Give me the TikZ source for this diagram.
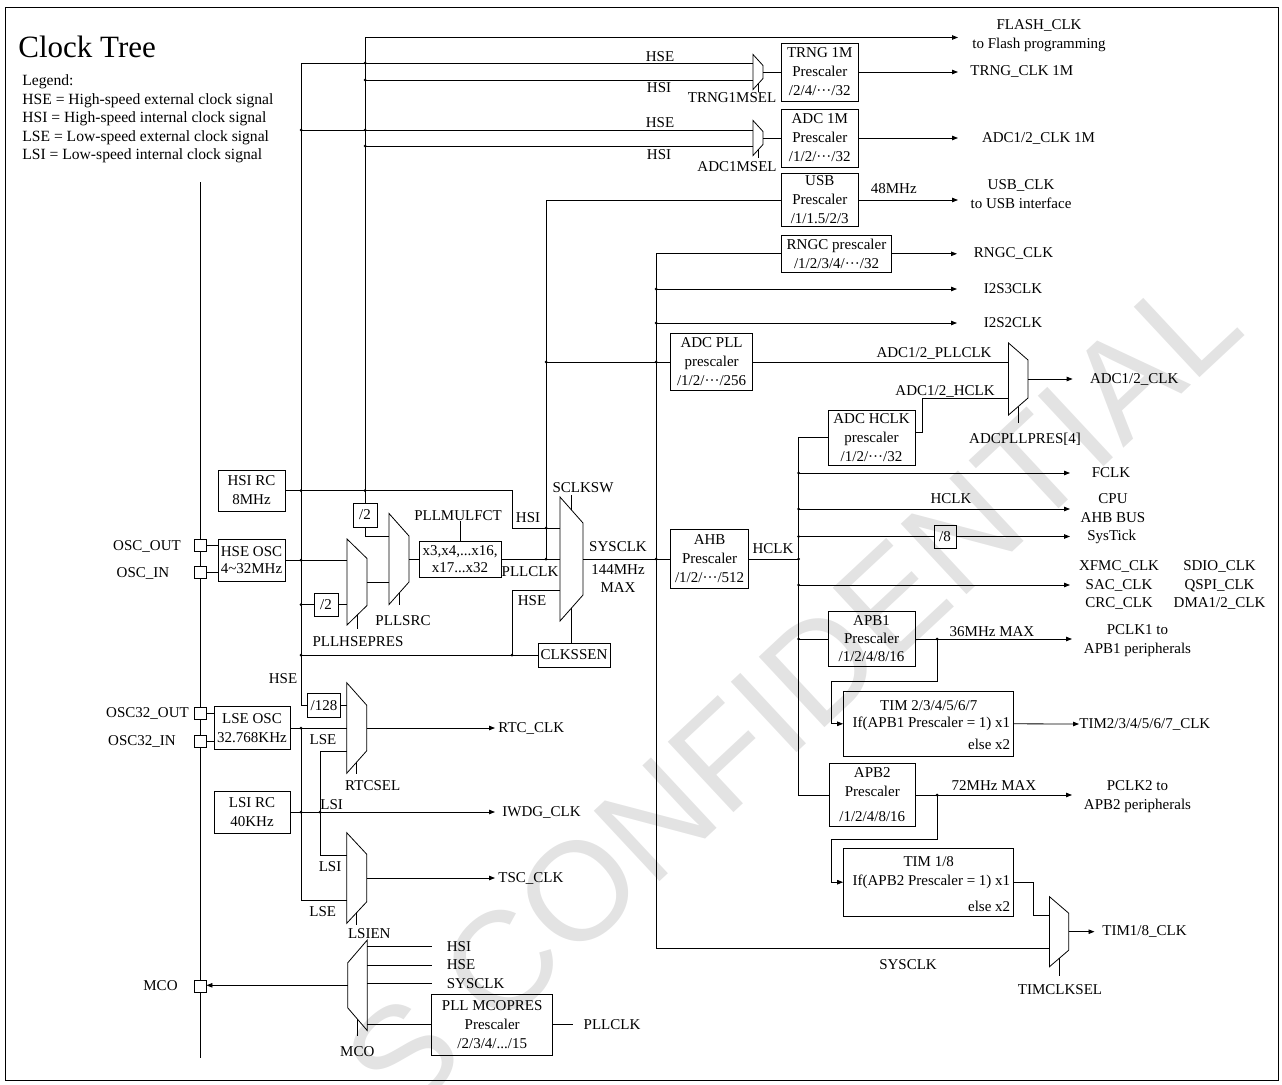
\documentclass[tikz,border=0pt]{standalone}
\usepackage{fontspec}
\setmainfont{Liberation Serif}
\newfontfamily\markfont{Liberation Sans}
\usetikzlibrary{arrows.meta}
\tikzset{>={Triangle[length=6pt,width=4.5pt]}}
\tikzset{
	box/.style={draw,align=center,inner sep=0pt},
	pin/.style={draw,fill=white,minimum size=12pt,inner sep=0pt},
	lbl/.style={inner sep=0pt,align=center}
}
\newcommand{\muxR}[6]{
	% #1: name
	% #2: x of the long side
	% #3: y of the centre
	% #4: width
	% #5: half height, long side
	% #6: half height, short side
	\draw (#2,#3-#5) -- (#2+#4,#3-#6) -- (#2+#4,#3+#6) -- (#2,#3+#5) -- cycle;
	\coordinate (#1-w) at (#2,#3);
	\coordinate (#1-e) at (#2+#4,#3);
	\coordinate (#1-n) at (#2+#4/2,#3-#5/2-#6/2);
	\coordinate (#1-s) at (#2+#4/2,#3+#5/2+#6/2);
}
\newcommand{\muxL}[6]{
	% same as \muxR, output on the left
	\draw (#2,#3-#5) -- (#2-#4,#3-#6) -- (#2-#4,#3+#6) -- (#2,#3+#5) -- cycle;
	\coordinate (#1-e) at (#2,#3);
	\coordinate (#1-w) at (#2-#4,#3);
	\coordinate (#1-s) at (#2-#4/2,#3+#5/2+#6/2);
}
\newcommand{\junction}[1]{
	% #1: x,y
	\fill (#1) circle (1.5pt);
}

\begin{document}
\begin{tikzpicture}[x=1pt,y=-1pt,line width=.8pt,every node/.style={font=\fontsize{15}{19}\selectfont}]
\useasboundingbox (0,0) rectangle (1282,1084);

% watermark
\node[lbl,rotate=43,text=black!11,font=\fontsize{140}{140}\markfont] (mark) at (792,692) {S CONFIDENTIAL};

% frame, title and legend
\draw (5,7) rectangle (1278,1080);
\node[lbl,anchor=base west,font=\fontsize{31}{36}\selectfont] (title) at (18,57) {Clock Tree};
\node[lbl,anchor=north west,align=left,font=\fontsize{15.6}{18.5}\selectfont] (legend) at (22,74.5) {Legend:\\HSE = High-speed external clock signal\\HSI = High-speed internal clock signal\\LSE = Low-speed external clock signal\\LSI = Low-speed internal clock signal};

% chip edge and pins
\draw (200,182) -- (200,1058);
\node[pin] (oscout) at (200,545) {};
\node[pin] (oscin) at (200,572.5) {};
\node[pin] (osc32out) at (200,713.5) {};
\node[pin] (osc32in) at (200,741) {};
\node[pin] (mcopin) at (200,986) {};
\node[lbl] (oscoutl) at (147,546) {OSC\_OUT};
\node[lbl] (oscinl) at (143,573) {OSC\_IN};
\node[lbl] (osc32outl) at (147.5,713) {OSC32\_OUT};
\node[lbl] (osc32inl) at (142,741) {OSC32\_IN};
\node[lbl] (mcol) at (160.5,986) {MCO};

% oscillators
\node[box,minimum width=67,minimum height=41] (hsirc) at (251.5,490.5) {HSI RC\\8MHz};
\node[box,minimum width=67,minimum height=42,font=\fontsize{15}{17}\selectfont] (hseosc) at (251.5,560) {HSE OSC\\4\textasciitilde 32MHz};
\node[box,minimum width=76,minimum height=42.6] (lseosc) at (252,728) {LSE OSC\\32.768KHz};
\node[box,minimum width=76,minimum height=42] (lsirc) at (252,812) {LSI RC\\40KHz};
\draw (oscout.east) -- (oscout.east -| hseosc.west);
\draw (oscin.east) -- (oscin.east -| hseosc.west);
\draw (osc32out.east) -- (osc32out.east -| lseosc.west);
\draw (osc32in.east) -- (osc32in.east -| lseosc.west);

% prescaler boxes
\node[box,minimum width=24,minimum height=24] (hsidiv) at (365,515) {/2};
\node[box,minimum width=24,minimum height=23] (hsediv) at (326,604.5) {/2};
\node[box,minimum width=82,minimum height=36,font=\fontsize{15}{17}\selectfont] (pllmul) at (460,559) {x3,x4,...x16,\\x17...x32};
\node[box,minimum width=72,minimum height=24] (clkssen) at (574,655) {CLKSSEN};
\node[box,minimum width=33.4,minimum height=24] (div128) at (324,705.3) {/128};
\node[box,minimum width=76.5,minimum height=58] (trng) at (819.75,72) {TRNG 1M\\Prescaler\\/2/4/···/32};
\node[box,minimum width=76.5,minimum height=58] (adc1m) at (819.75,138) {ADC 1M\\Prescaler\\/1/2/···/32};
\node[box,minimum width=76.5,minimum height=53.4] (usb) at (819.75,200) {USB\\Prescaler\\/1/1.5/2/3};
\node[box,minimum width=110.5,minimum height=37.7] (rngc) at (836.5,253.8) {RNGC prescaler\\/1/2/3/4/···/32};
\node[box,minimum width=82,minimum height=56.7] (adcpll) at (711.6,362) {ADC PLL\\prescaler\\/1/2/···/256};
\node[box,minimum width=87,minimum height=55] (adchclk) at (871.5,437.5) {ADC HCLK\\prescaler\\/1/2/···/32};
\node[box,minimum width=78,minimum height=59] (ahb) at (709.6,559) {AHB\\Prescaler\\/1/2/···/512};
\node[box,minimum width=22,minimum height=23] (div8) at (945,536.5) {/8};
\node[box,minimum width=87,minimum height=54.3,font=\fontsize{15}{18}\selectfont] (apb1) at (871.5,639) {APB1\\Prescaler\\/1/2/4/8/16};
\node[box,minimum width=85.4,minimum height=63.4] (apb2) at (872.3,795) {APB2\\Prescaler\\[6pt]/1/2/4/8/16};
\node[box,minimum width=170,minimum height=65.7] (tim2) at (928.5,723.8) {};
\node[box,minimum width=170,minimum height=67.7] (tim18) at (928.5,882.2) {};
\node[box,minimum width=121,minimum height=61] (pllmco) at (492.2,1024.5) {PLL MCOPRES\\Prescaler\\/2/3/4/.../15};

% multiplexers
\muxR{trngmux}{753}{72}{10}{17.5}{6.5}
\muxR{adcmmux}{753}{138}{10}{17.5}{6.5}
\muxR{hsepmux}{347}{582}{20}{43}{23.5}
\muxR{pllsrcmux}{389}{559}{20}{45.5}{23}
\muxR{sclkmux}{560}{559}{23}{62}{36}
\muxR{adcmux}{1008.5}{379}{19.5}{36}{19}
\muxR{timmux}{1049.5}{931.7}{19.2}{35}{18.5}
\muxR{rtcmux}{346.7}{728}{20}{45.3}{22.8}
\muxR{lsienmux}{346.7}{878}{20}{45.3}{23.8}
\muxL{mcomux}{367.3}{985.3}{19.6}{45.3}{22.5}

% bus points
\coordinate (hsitop) at (365,37.5);
\coordinate (hsetop) at (301,63);
\coordinate (flashtip) at (958,37.5);
\coordinate (pllclkdot) at (546,559);
\coordinate (sysbot) at (656,948);
\coordinate (systip) at (957,0);
\coordinate (hclkx) at (798.5,0);
\coordinate (hclktip) at (1070,0);
\coordinate (apbtip) at (1072,0);
\coordinate (hsiturn) at (512,528);
\coordinate (hseturn) at (512,655);
\coordinate (lsetap) at (301,728);
\coordinate (lsiturn) at (320,855);
\coordinate (apb1tap) at (937,639);
\coordinate (apb2tap) at (937,795);

% HSI and HSE buses
\node[lbl] (flash) at (1039,35.5) {FLASH\_CLK\\to Flash programming};
\draw[->] (hsitop) -- (flashtip);
\draw (hsitop) -- (hsidiv.north);
\draw (hsetop) |- (div128.west);
\draw (hsetop) -- (hsetop -| trngmux-w);
\draw (hsitop |- 0,80) -- (trngmux-w |- 0,80);
\draw (hsetop |- 0,130) -- (adcmmux-w |- 0,130);
\draw (hsitop |- 0,146) -- (adcmmux-w |- 0,146);

% TRNG and ADC 1M
\draw (trngmux-e) -- (trng.west);
\draw (trngmux-s) -- ++(0,8);
\draw (adcmmux-e) -- (adc1m.west);
\draw (adcmmux-s) -- ++(0,8);
\draw[->] (trng.east) -- (trng.east -| flashtip);
\draw[->] (adc1m.east) -- (adc1m.east -| flashtip);
\node[lbl] (trnghse) at (660,57) {HSE};
\node[lbl] (trnghsi) at (659,88) {HSI};
\node[lbl] (trngsel) at (732,98) {TRNG1MSEL};
\node[lbl] (adchse) at (660,123) {HSE};
\node[lbl] (adchsi) at (659,155) {HSI};
\node[lbl] (adcmsel) at (737,167) {ADC1MSEL};
\node[lbl,anchor=west] (trngclk) at (970,72) {TRNG\_CLK 1M};
\node[lbl] (adc1mclk) at (1038.5,138) {ADC1/2\_CLK 1M};

% USB and PLLCLK line
\draw (usb.west) -| (pllclkdot);
\draw[->] (usb.east) -- (usb.east -| flashtip);
\node[lbl] (usbmhz) at (893.8,188.3) {48MHz};
\node[lbl] (usbclk) at (1021,194.5) {USB\_CLK\\to USB interface};

% PLL and system clock switch
\draw (hseosc.east) -- (hseosc.east -| hsepmux-w);
\draw (hsetop |- hsediv) -- (hsediv.west);
\draw (hsediv.east) -- (hsediv.east -| hsepmux-w);
\draw (hsidiv.south) |- (pllsrcmux-w |- 0,536);
\draw (hsepmux-e) -- (hsepmux-e -| pllsrcmux-w);
\draw (pllsrcmux-e) -- (pllmul.west);
\draw (pllmul.east) -- (sclkmux-w);
\draw (hsirc.east) -| (hsiturn) -- (hsiturn -| sclkmux-w);
\draw (hsetop |- clkssen) -- (clkssen.west);
\draw (hseturn) |- (sclkmux-w |- 0,590);
\draw (hsepmux-s) -- ++(0,14);
\draw (pllsrcmux-s) -- ++(0,12);
\draw (sclkmux-n) -- ++(0,-15);
\draw (sclkmux-s) -- (sclkmux-s |- clkssen.north);
\node[lbl] (pllmulfct) at (458,516) {PLLMULFCT};
\draw (pllmul.north) -- (pllmul.north |- pllmulfct.south);
\node[lbl] (pllsrc) at (403,621) {PLLSRC};
\node[lbl] (pllhsepres) at (358,642) {PLLHSEPRES};
\node[lbl] (sclkhsi) at (528,518) {HSI};
\node[lbl] (sclkpll) at (530,572) {PLLCLK};
\node[lbl] (sclkhse) at (532,601) {HSE};
\node[lbl] (sclksw) at (583,488) {SCLKSW};
\node[lbl] (sysclk) at (618,547) {SYSCLK};
\node[lbl,font=\fontsize{15}{18}\selectfont] (sysmax) at (618,579) {144MHz\\MAX};
\draw (sclkmux-e) -- (ahb.west);

% SYSCLK bus
\draw (rngc.west) -| (sysbot) -- (sysbot -| timmux-w);
\draw[->] (rngc.east) -- (rngc.east -| systip);
\draw[->] (sysbot |- 0,289) -- (systip |- 0,289);
\draw[->] (sysbot |- 0,323) -- (systip |- 0,323);
\node[lbl] (rngcclk) at (1013.5,253.8) {RNGC\_CLK};
\node[lbl] (i2s3) at (1013,289) {I2S3CLK};
\node[lbl] (i2s2) at (1013,323) {I2S2CLK};

% ADC clock
\draw (pllclkdot |- adcpll) -- (adcpll.west);
\draw (adcpll.east) -- (adcpll.east -| adcmux-w);
\draw ([yshift=5pt]adchclk.east) -- ++(7,0) |- (adcmux-w |- 0,398);
\draw (adcmux-s) -- ++(0,16);
\node[lbl,anchor=west] (adcclk) at (1089.6,379) {ADC1/2\_CLK};
\draw[->] (adcmux-e) -- ([xshift=-17pt]adcclk.west);
\node[lbl] (adcpllclk) at (934,353.3) {ADC1/2\_PLLCLK};
\node[lbl] (adchclkl) at (945,391) {ADC1/2\_HCLK};
\node[lbl] (adcpllpres) at (1025,439) {ADCPLLPRES[4]};

% HCLK bus
\draw (adchclk.west) -| (hclkx |- apb2.west) -- (apb2.west);
\draw (ahb.east) -- (hclkx |- ahb.east);
\node[lbl] (hclkl) at (773,549) {HCLK};
\draw[->] (hclkx |- 0,473) -- (hclktip |- 0,473);
\draw[->] (hclkx |- 0,509) -- (hclktip |- 0,509);
\draw (hclkx |- div8) -- (div8.west);
\draw[->] (div8.east) -- (hclktip |- div8);
\draw[->] (hclkx |- 0,585) -- (hclktip |- 0,585);
\node[lbl] (fclk) at (1111,473) {FCLK};
\node[lbl] (hclkcpu) at (951,499) {HCLK};
\node[lbl] (cpu) at (1113,508.5) {CPU\\AHB BUS};
\node[lbl] (systick) at (1111.7,536.5) {SysTick};
\node[lbl,font=\fontsize{15}{18.2}\selectfont] (periph1) at (1119,585) {XFMC\_CLK\\SAC\_CLK\\CRC\_CLK};
\node[lbl,font=\fontsize{15}{18.2}\selectfont] (periph2) at (1219.5,585) {SDIO\_CLK\\QSPI\_CLK\\DMA1/2\_CLK};

% APB1 and timers 2..7
\draw (hclkx |- apb1) -- (apb1.west);
\draw[->] (apb1.east) -- (apb1.east -| apbtip);
\draw[->] (apb1tap) |- (831,681.7) |- (tim2.west);
\node[lbl] (apb1mhz) at (992,631.7) {36MHz MAX};
\node[lbl] (pclk1) at (1137.5,641) {PCLK1 to\\APB1 peripherals};
\node[lbl] (tim2a) at (928.7,706) {TIM 2/3/4/5/6/7};
\node[lbl,anchor=east] (tim2b) at (1010.6,724.3) {If(APB1 Prescaler = 1) x1};
\node[lbl,anchor=east] (tim2c) at (1010.6,744) {else x2};
\node[lbl,anchor=west] (tim2clk) at (1079,724) {TIM2/3/4/5/6/7\_CLK};
\draw[->] (tim2.east) -- (tim2clk.west);

% APB2 and timers 1/8
\draw[->] (apb2.east) -- (apb2.east -| apbtip);
\draw[->] (apb2tap) |- (831,839) |- (tim18.west);
\node[lbl] (apb2mhz) at (994,785.7) {72MHz MAX};
\node[lbl] (pclk2) at (1137.5,796.3) {PCLK2 to\\APB2 peripherals};
\node[lbl] (tim18a) at (928.7,861.7) {TIM 1/8};
\node[lbl,anchor=east] (tim18b) at (1010.6,881.7) {If(APB2 Prescaler = 1) x1};
\node[lbl,anchor=east] (tim18c) at (1010.6,906) {else x2};
\draw (tim18.east) -| (1033,915) -- (timmux-w |- 0,915);
\node[lbl,anchor=west] (tim18clk) at (1102,931.7) {TIM1/8\_CLK};
\draw[->] (timmux-e) -- ([xshift=-7.5pt]tim18clk.west);
\draw (timmux-s) -- ++(0,18);
\node[lbl] (timsel) at (1060,990) {TIMCLKSEL};
\node[lbl] (sysbotl) at (908,965) {SYSCLK};

% low speed clocks
\draw (div128.east) -- (div128.east -| rtcmux-w);
\draw (lseosc.east) -- (rtcmux-w);
\draw (lsetap) |- (lsienmux-w |- 0,900);
\draw (rtcmux-w |- 0,751) -| (lsiturn) -- (lsiturn -| lsienmux-w);
\draw (rtcmux-s) -- ++(0,12);
\draw (lsienmux-s) -- ++(0,12);
\node[lbl,anchor=west] (rtcclk) at (498,728) {RTC\_CLK};
\node[lbl,anchor=west] (iwdgclk) at (502,812) {IWDG\_CLK};
\node[lbl,anchor=west] (tscclk) at (498,878) {TSC\_CLK};
\draw[->] (rtcmux-e) -- ([xshift=-3pt]rtcclk.west);
\draw[->] (lsirc.east) -- ([xshift=-7pt]iwdgclk.west);
\draw[->] (lsienmux-e) -- ([xshift=-3pt]tscclk.west);
\node[lbl] (hse128) at (283,679) {HSE};
\node[lbl] (rtclse) at (323,740) {LSE};
\node[lbl] (iwdglsi) at (331.7,805) {LSI};
\node[lbl] (tsclsi) at (330,866.7) {LSI};
\node[lbl] (tsclse) at (322.7,911.7) {LSE};
\node[lbl] (rtcsel) at (372.7,786) {RTCSEL};
\node[lbl] (lsien) at (369.3,933.3) {LSIEN};

% MCO output
\draw[->] (mcomux-w) -- (mcomux-w -| mcopin.east);
\node[lbl,anchor=west] (mcohsi) at (446.5,946.7) {HSI};
\node[lbl,anchor=west] (mcohse) at (446.5,965) {HSE};
\node[lbl,anchor=west] (mcosys) at (446.5,983.3) {SYSCLK};
\draw (mcomux-e |- mcohsi) -- ([xshift=-15pt]mcohsi.west);
\draw (mcomux-e |- mcohse) -- ([xshift=-15pt]mcohse.west);
\draw (mcomux-e |- mcosys) -- ([xshift=-15pt]mcosys.west);
\draw (pllmco.west) -- (pllmco.west -| mcomux-e);
\node[lbl,anchor=west] (mcopll) at (583.3,1024.5) {PLLCLK};
\draw (pllmco.east) -- ([xshift=-10pt]mcopll.west);
\draw (mcomux-s) -- ++(0,17);
\node[lbl] (mcosel) at (357.3,1051.7) {MCO};

% junctions
\junction{365,63}
\junction{365,80}
\junction{365,130}
\junction{365,146}
\junction{301,130}
\junction{301,490.5}
\junction{365,490.5}
\junction{301,560}
\junction{301,604.5}
\junction{301,655}
\junction{512,655}
\junction{546,528}
\junction{546,559}
\junction{546,362}
\junction{656,362}
\junction{656,289}
\junction{656,323}
\junction{656,559}
\junction{798.5,473}
\junction{798.5,509}
\junction{798.5,536.5}
\junction{798.5,559}
\junction{798.5,585}
\junction{798.5,639}
\junction{937,639}
\junction{937,795}
\junction{301,728}
\junction{301,812}
\junction{320,812}

\end{tikzpicture}
\end{document}
